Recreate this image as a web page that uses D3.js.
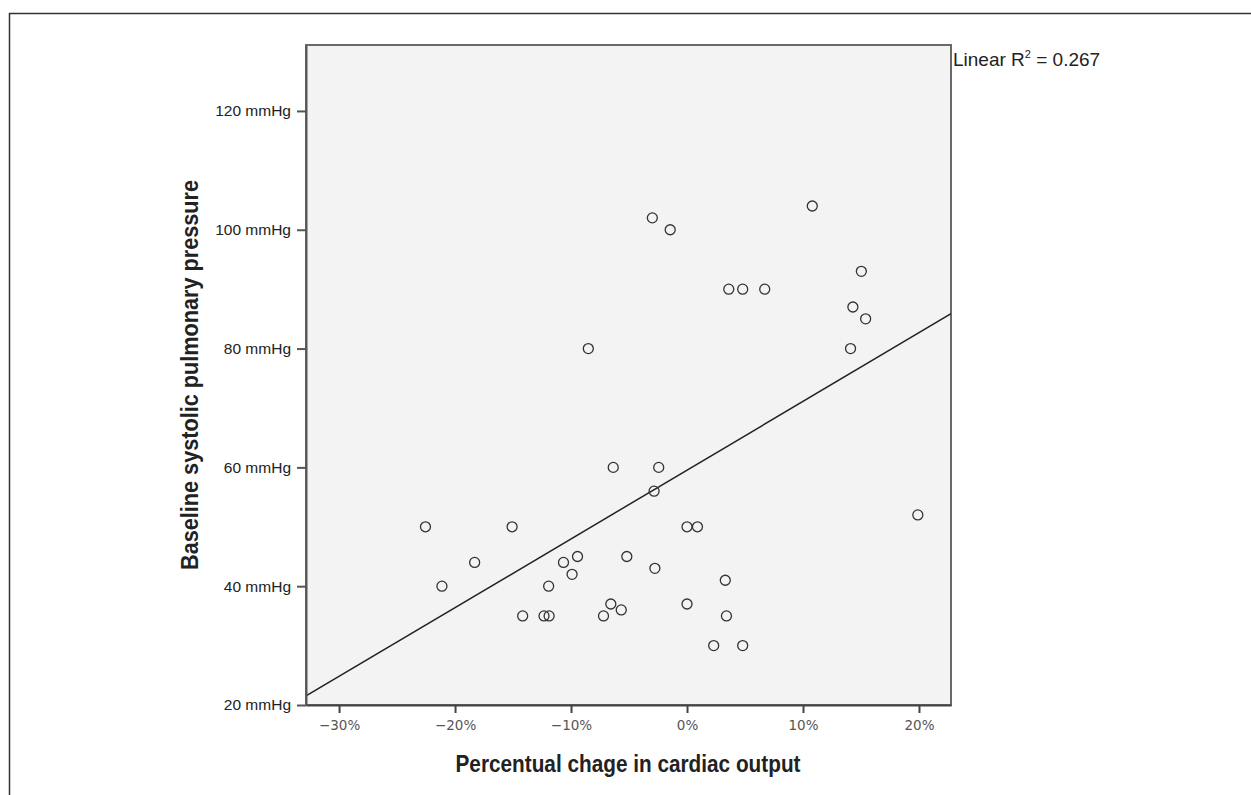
<!DOCTYPE html>
<html>
<head>
<meta charset="utf-8">
<script src="https://cdn.jsdelivr.net/npm/d3@7"></script>
<style>
	body { margin: 0; background: #fff; }
	svg { display: block; }
</style>
</head>
<body>
<svg id="mainsvg" width="1251" height="795"></svg>
<script>
// percent change in cardiac output (x) and baseline systolic pulmonary pressure (y, mmHg)
var changeCO = [-22.55, -21.13, -18.31, -15.08, -14.17, -12.33, -11.89, -11.93, -10.65, -9.91,
	-9.44, -7.2, -6.57, -5.67, -5.19, -6.36, -2.44, -2.84, -2.77, 0.0,
	0.9, 0.0, 3.3, 3.4, 2.3, 4.8, 19.9, -2.99, -1.45, 10.8,
	3.6, 4.8, 6.7, 15.03, 14.3, 15.4, 14.1, -8.51];
var pressure = [50, 40, 44, 50, 35, 35, 35, 40, 44, 42,
	45, 35, 37, 36, 45, 60, 60, 56, 43, 50,
	50, 37, 41, 35, 30, 30, 52, 102, 100, 104,
	90, 90, 90, 93, 87, 85, 80, 80];
var xTicks = [-30, -20, -10, 0, 10, 20];
var yTicks = [20, 40, 60, 80, 100, 120];
var xDomain = [-32.85, 22.76];
var yDomain = [20, 131.1];
var rSquaredLabel = "0.267";

var svg = d3.select("#mainsvg");
var plot = { x: 306, y: 45, w: 645, h: 660 };

var x = d3.scaleLinear().domain(xDomain).range([plot.x, plot.x + plot.w]);
var y = d3.scaleLinear().domain(yDomain).range([plot.y + plot.h, plot.y]);

// outer frame
svg.append("path")
	.attr("d", "M9.5,800 L9.5,13.5 L1260,13.5")
	.attr("fill", "none")
	.attr("stroke", "#333")
	.attr("stroke-width", 1.5);

svg.append("defs").append("clipPath").attr("id", "clip")
	.append("rect")
	.attr("x", plot.x).attr("y", plot.y)
	.attr("width", plot.w).attr("height", plot.h);

svg.append("rect")
	.attr("x", plot.x).attr("y", plot.y)
	.attr("width", plot.w).attr("height", plot.h)
	.attr("fill", "#f3f3f3")
	.attr("stroke", "#6a6a6a")
	.attr("stroke-width", 2);

// least squares fit
var mx = d3.mean(changeCO), my = d3.mean(pressure);
var sxy = 0, sxx = 0;
changeCO.forEach(function(d, i) {
	sxy += (d - mx) * (pressure[i] - my);
	sxx += (d - mx) * (d - mx);
});
var slope = sxy / sxx;
var icpt = my - slope * mx;

svg.append("line")
	.attr("clip-path", "url(#clip)")
	.attr("x1", x(xDomain[0])).attr("y1", y(icpt + slope * xDomain[0]))
	.attr("x2", x(xDomain[1])).attr("y2", y(icpt + slope * xDomain[1]))
	.attr("stroke", "#222")
	.attr("stroke-width", 1.5);

svg.append("g")
	.selectAll("circle")
	.data(changeCO)
	.enter().append("circle")
	.attr("cx", function(d) { return x(d); })
	.attr("cy", function(d, i) { return y(pressure[i]); })
	.attr("r", 5)
	.attr("fill", "none")
	.attr("stroke", "#333")
	.attr("stroke-width", 1.3);

// axes
var xAxis = svg.append("g")
	.attr("transform", "translate(0," + (plot.y + plot.h) + ")")
	.call(d3.axisBottom(x).tickValues(xTicks).tickSize(8).tickSizeOuter(0)
		.tickFormat(function(d) { return d3.format("")(d) + "%"; }));
xAxis.select(".domain").attr("stroke", "#444").attr("stroke-width", 2);
xAxis.selectAll(".tick line").attr("stroke", "#444").attr("stroke-width", 2);
xAxis.selectAll(".tick text")
	.attr("y", 15)
	.attr("font-family", "DejaVu Sans, sans-serif")
	.attr("font-size", 13.5)
	.attr("fill", "#555");

var yAxis = svg.append("g")
	.attr("transform", "translate(" + plot.x + ",0)")
	.call(d3.axisLeft(y).tickValues(yTicks).tickSize(9).tickSizeOuter(0)
		.tickFormat(function(d) { return d + " mmHg"; }));
yAxis.select(".domain").attr("stroke", "#555").attr("stroke-width", 2);
yAxis.selectAll(".tick line").attr("stroke", "#555").attr("stroke-width", 2);
yAxis.selectAll(".tick text")
	.attr("x", -15)
	.attr("font-family", "Liberation Sans, Arial, sans-serif")
	.attr("font-size", 15.5)
	.attr("fill", "#222");

// titles
svg.append("text")
	.attr("x", 628).attr("y", 772)
	.attr("text-anchor", "middle")
	.attr("font-family", "Liberation Sans, Arial, sans-serif")
	.attr("font-weight", "bold")
	.attr("font-size", 23)
	.attr("textLength", 345)
	.attr("lengthAdjust", "spacingAndGlyphs")
	.attr("fill", "#222")
	.text("Percentual chage in cardiac output");

svg.append("text")
	.attr("transform", "translate(198,375) rotate(-90)")
	.attr("text-anchor", "middle")
	.attr("font-family", "Liberation Sans, Arial, sans-serif")
	.attr("font-weight", "bold")
	.attr("font-size", 23)
	.attr("textLength", 390)
	.attr("lengthAdjust", "spacingAndGlyphs")
	.attr("fill", "#222")
	.text("Baseline systolic pulmonary pressure");

var legend = svg.append("text")
	.attr("x", 953).attr("y", 66)
	.attr("font-family", "Liberation Sans, Arial, sans-serif")
	.attr("font-size", 19)
	.attr("fill", "#222");
legend.append("tspan").text("Linear R");
legend.append("tspan").attr("font-size", 11).attr("dy", -8).text("2");
legend.append("tspan").attr("dy", 8).text(" = " + rSquaredLabel);
</script>
</body>
</html>
